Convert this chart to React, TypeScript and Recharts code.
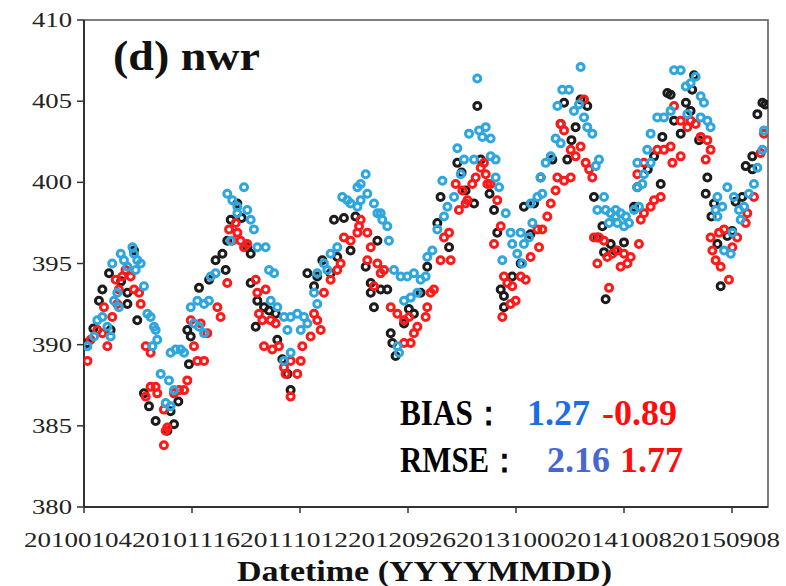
import React from "react";
import { ScatterChart, Scatter, XAxis, YAxis, ReferenceArea } from "recharts";

// x = observation index, y = CO2 (ppm)
const obsPoints: [number, number][] = [
  [1.9, 390.1], [8.3, 392.7], [10.2, 393.4], [13.9, 394.4], [14.8, 390.9], [24.1, 393.2], [24.1, 392.5],
  [27.8, 395.8], [29.6, 391.5], [33.3, 387.0], [39.8, 385.3], [48.1, 385.9], [50, 385.1], [46.3, 384.7],
  [57.4, 390.9], [59.3, 390.5], [58.3, 388.8], [63.9, 393.5], [73.1, 395.2], [78.7, 394.6], [76.9, 395.6],
  [79.6, 396.4], [81.5, 397.7], [85.2, 398.7], [90.7, 396.0], [92.6, 395.6], [92.6, 393.8], [96.3, 392.7],
  [100, 392.3], [102.8, 392.1], [106.5, 391.9], [95.4, 391.1], [107.4, 390.3], [113, 388.2], [114.8, 387.2],
  [124.1, 394.4], [127.8, 393.6], [129.6, 394.2], [137, 394.4], [138.9, 397.7], [144.4, 397.8], [148.1, 395.8],
  [140.7, 395.4], [156.5, 394.8], [159.3, 393.8], [159.3, 393.2], [161.1, 392.3], [164.8, 393.4], [168.5, 393.4],
  [163, 396.4], [170.4, 390.7], [171.3, 390.1], [173.1, 389.3], [177.8, 391.3], [183.3, 391.9], [187, 393.2],
  [190.7, 394.8], [198.1, 399.1], [196.3, 397.5], [202.8, 396.0], [207.4, 401.2], [212, 399.5], [218.5, 404.7],
  [216.7, 398.7], [220.4, 401.4], [227.8, 398.3], [229.6, 396.9], [231.5, 393.4], [233.3, 393.0], [233.3, 392.3],
  [237.9, 394.2], [242.6, 395.0], [244.4, 398.5], [250, 398.7], [253.7, 400.3], [260.2, 401.4], [264.8, 403.6],
  [266.7, 404.9], [268.5, 401.4], [273.1, 403.4], [275.9, 405.1], [279.6, 404.7], [283.3, 399.1], [288, 397.3],
  [285.2, 396.6], [288.9, 395.7], [292.6, 396.2], [300, 396.3], [289.8, 392.8], [305.6, 398.5], [307.4, 399.7],
  [316.7, 401.6], [320.4, 399.9], [321.3, 402.8], [324.1, 405.5], [325.9, 405.4], [327.8, 403.8], [331.5, 403.0],
  [337, 404.4], [338.9, 406.6], [337.9, 405.7], [341.7, 402.6], [346.3, 400.3], [345.4, 399.3], [350, 398.7],
  [351.9, 396.2], [353.7, 393.6], [357.4, 396.7], [362, 398.8], [365.7, 399.1], [367.6, 401.0], [371.3, 401.6],
  [374.1, 404.2], [376.9, 404.9], [371.3, 400.8], [378.5, 404.8],
  [5.2, 391.0], [20.6, 393.9], [36.1, 386.2], [52.4, 386.5], [69.5, 394.0], [87.6, 397.8], [110.2, 389.1],
  [132.4, 395.2], [150.8, 397.9], [180.5, 392.2], [209.8, 400.6], [225.3, 399.3], [248.0, 396.8], [270.8, 402.6],
  [294.9, 395.8], [313.2, 400.8], [334.4, 404.9], [348.6, 397.9], [360.1, 397.0],
];

const modelBluePoints: [number, number][] = [
  [1.9, 389.9], [5.6, 390.5], [7.4, 391.5], [10.2, 391.7], [13, 391.1], [14.8, 390.5], [15.7, 395.0],
  [20.4, 395.6], [22.2, 395.2], [26.9, 396.0], [27.8, 395.6], [29.6, 395.2], [24.1, 394.8], [28.7, 394.6],
  [31.5, 395.0], [18.5, 393.2], [16.7, 392.7], [19.4, 392.3], [33.3, 393.6], [35.2, 391.9], [37, 391.7],
  [38.9, 391.1], [39.8, 390.9], [40.7, 390.3], [38, 389.9], [42.6, 388.2], [48.1, 389.5], [50.9, 389.7],
  [53.7, 389.7], [55.6, 389.5], [47.2, 387.8], [50, 387.2], [45.4, 386.4], [48.1, 386.2], [59.3, 392.3],
  [63, 392.7], [66.7, 392.5], [69.4, 392.7], [70.4, 394.2], [73.1, 394.4], [61.1, 391.3], [63.9, 391.1],
  [66.7, 390.7], [79.6, 399.3], [82.4, 398.9], [88.9, 399.7], [85.2, 398.5], [90.7, 398.3], [92.6, 397.7],
  [94.4, 397.1], [96.3, 396.0], [100.9, 396.0], [85.2, 398.1], [81.5, 396.4], [102.8, 394.6], [105.6, 394.4],
  [103.7, 392.7], [107.4, 392.3], [111.1, 391.7], [114.8, 391.7], [118.5, 391.9], [122.2, 391.7], [124.1, 391.3],
  [113, 390.9], [120.4, 390.9], [114.8, 389.5], [111.1, 389.0], [129.6, 394.4], [133.3, 395.0], [135.2, 394.6],
  [127.8, 393.2], [129.6, 392.5], [137, 395.6], [140.7, 396.0], [143.5, 399.1], [146.3, 398.9], [148.1, 398.7],
  [151.9, 398.5], [153.7, 398.9], [157.4, 399.3], [156.5, 400.5], [151.9, 399.7], [153.7, 399.9], [161.1, 398.7],
  [163, 398.1], [164.8, 398.1], [165.7, 397.7], [168.5, 397.3], [169.4, 396.4], [172.2, 394.6], [175.9, 394.2],
  [179.6, 394.2], [183.3, 394.4], [187, 394.0], [177.8, 392.7], [181.5, 392.9], [185.2, 393.2], [174.1, 389.9],
  [175, 389.5], [190.7, 395.4], [193.5, 395.8], [189.8, 394.2], [196.3, 397.1], [200, 397.9], [199.1, 400.1],
  [201.9, 398.5], [205.6, 399.1], [207.4, 402.1], [209.3, 400.5], [211.1, 401.4], [213.9, 403.0], [216.7, 401.4],
  [218.5, 406.4], [219.5, 403.2], [221.3, 402.8], [223.2, 403.4], [225.9, 402.7], [225.9, 401.6], [228.7, 401.4],
  [228.7, 400.3], [230.6, 399.7], [234.3, 398.1], [237, 396.9], [237.9, 396.2], [232.4, 395.2], [242.6, 396.9],
  [244.4, 396.2], [240.7, 395.6], [243.5, 395.0], [247.2, 396.6], [249.1, 397.5], [251.9, 399.1], [254.6, 399.3],
  [248.1, 398.7], [253.7, 400.3], [256.5, 401.2], [259.3, 401.6], [262, 402.7], [264.8, 402.4], [263, 404.7],
  [265.7, 405.7], [269.4, 405.7], [272.2, 404.4], [275, 404.8], [275.9, 407.1], [277.8, 404.0], [279.6, 403.4],
  [282.4, 403.0], [286.1, 401.4], [284.3, 401.0], [288.9, 399.1], [285.2, 398.3], [289.8, 398.3], [292.6, 398.1],
  [295.4, 397.9], [298.1, 398.1], [301, 397.9], [296.3, 397.5], [300, 397.3], [302.8, 397.5], [305.6, 398.3],
  [308.3, 398.5], [295.4, 398.3], [291.7, 397.5], [307.4, 401.2], [311.1, 400.5], [314.8, 401.2], [312.9, 402.0],
  [307.4, 399.7], [310.2, 399.9], [314.8, 403.0], [318.5, 404.0], [322.2, 404.0], [325.9, 404.4], [327.8, 406.9],
  [331.5, 406.9], [334.3, 405.9], [337, 406.1], [339.8, 406.5], [342.6, 405.3], [344.4, 404.9], [346.3, 403.8],
  [348.1, 403.4], [335.2, 404.2], [342.6, 404.0], [351.9, 399.1], [350.9, 398.3], [351.9, 397.9], [354.6, 398.5],
  [357.4, 399.7], [361.1, 399.1], [363.9, 398.3], [366.7, 398.5], [364.8, 397.7], [369.4, 399.3], [372.2, 399.9],
  [374.1, 400.9], [376.9, 402.0], [377.8, 403.2], [355.6, 395.8], [359.3, 395.6], [360.2, 396.9],
];

const modelRedPoints: [number, number][] = [
  [1.9, 389.0], [3.7, 390.3], [7.4, 390.9], [10.2, 390.7], [13, 389.9], [11.1, 392.3], [15.7, 391.7],
  [18.5, 392.5], [19.4, 393.4], [17.6, 394.0], [21.3, 394.2], [23.1, 394.6], [25.9, 394.2], [27.8, 393.4],
  [30.6, 393.2], [31.5, 392.5], [34.3, 389.9], [37, 389.5], [37, 387.4], [39.8, 387.4], [34.3, 386.8],
  [40.7, 387.0], [44.4, 386.0], [46.3, 384.9], [45.4, 384.7], [44.4, 383.8], [50, 387.0], [52.8, 387.2],
  [55.6, 387.2], [57.4, 387.8], [61.1, 389.9], [63, 389.0], [66.7, 389.0], [59.3, 391.5], [64.8, 391.3],
  [68.5, 390.7], [74.1, 392.3], [75.9, 391.7], [79.6, 393.8], [80.6, 397.1], [82.4, 396.4], [85.2, 396.9],
  [87, 396.4], [88.9, 396.0], [90.7, 396.2], [84.3, 397.5], [95.4, 394.0], [96.3, 393.2], [100.9, 393.4],
  [97.2, 391.9], [99.1, 391.5], [103.7, 391.5], [106.5, 391.3], [100, 389.9], [104.6, 389.7], [108.3, 389.9],
  [111.1, 388.6], [112, 388.2], [114.8, 389.0], [118.5, 388.2], [120.4, 389.0], [121.3, 389.9], [125.9, 390.5],
  [129.6, 391.5], [131.5, 390.9], [127.8, 391.9], [114.8, 386.8], [133.3, 393.2], [137, 394.0], [140.7, 394.6],
  [142.6, 395.0], [144.4, 396.6], [148.1, 396.4], [151.9, 396.9], [153.7, 397.7], [152.8, 397.3], [157.4, 396.9],
  [159.3, 396.0], [157.4, 395.2], [163, 395.0], [164.8, 394.4], [166.7, 394.6], [161.1, 393.6], [170.4, 392.3],
  [174.1, 391.9], [177.8, 391.5], [180.6, 391.7], [183.3, 390.7], [177.8, 390.1], [181.5, 390.1], [185.2, 391.1],
  [190.7, 392.3], [192.6, 393.2], [189.8, 391.7], [194.4, 393.4], [198.1, 395.2], [200, 396.6], [202.8, 396.9],
  [203.7, 395.2], [206.5, 399.9], [208.3, 398.3], [210.2, 399.5], [212, 398.7], [213, 398.9], [215.7, 399.9],
  [217.6, 400.3], [220.4, 400.9], [223.2, 400.5], [224.1, 399.9], [222.2, 401.2], [225.9, 399.9], [229.6, 398.9],
  [227.8, 396.2], [231.5, 397.3], [233.3, 394.2], [235.2, 393.8], [237.9, 393.6], [237, 392.5], [239.8, 392.7],
  [242.6, 394.2], [232.4, 391.7], [245.4, 394.0], [248.1, 395.4], [251.9, 397.1], [254.6, 397.1], [252.8, 396.0],
  [257.4, 397.9], [259.3, 398.7], [262, 399.5], [264.8, 403.6], [266.7, 403.2], [270.4, 402.0], [273.1, 401.6],
  [275.9, 402.2], [277.8, 405.1], [278.7, 401.2], [280.6, 400.8], [282.4, 400.3], [263, 400.3], [266.7, 400.1],
  [270.4, 400.3], [283.3, 396.6], [286.1, 396.6], [288.9, 396.4], [285.2, 395.0], [290.7, 395.4], [293.5, 395.6],
  [296.3, 395.8], [300, 395.6], [301.9, 395.0], [303.7, 395.4], [298.1, 394.8], [308.3, 396.2], [291.7, 393.5],
  [309.3, 397.7], [311.1, 398.1], [314.8, 398.5], [316.7, 398.9], [320.4, 399.1], [307.4, 400.5], [311.1, 401.2],
  [318.5, 402.0], [322.2, 402.0], [325.9, 402.2], [326.9, 401.2], [331.5, 401.6], [327.8, 404.7], [331.5, 403.8],
  [335.2, 403.4], [337, 403.8], [339.8, 403.6], [342.6, 402.8], [346.3, 402.6], [348.1, 402.0], [345.4, 401.4],
  [348.1, 396.6], [349.1, 395.8], [350.9, 395.2], [353.7, 394.8], [358.3, 394.0], [352.8, 396.9], [355.6, 397.1],
  [362.9, 396.6], [367.6, 397.5], [368.5, 398.1], [372.2, 399.1], [360.2, 396.0], [375.9, 401.8], [377.8, 403.0],
];

const xTickValues = [0, 60, 120, 180, 240, 300, 360];
const xTickLabels = ["20100104", "20101116", "20111012", "20120926", "20131000", "20141008", "20150908"];
const yTickValues = [380, 385, 390, 395, 400, 405, 410];

const panelTitle = "(d) nwr";
const xAxisTitle = "Datetime (YYYYMMDD)";
const biasLabel = "BIAS：";
const rmseLabel = "RMSE：";
const biasValues = ["1.27", "-0.89"];
const rmseValues = ["2.16", "1.77"];

const toObjs = (pts: [number, number][]) => pts.map(([x, y]) => ({ x, y }));

const ring = (color: string) => (props: any) => {
  const { cx, cy } = props;
  if (cx == null || cy == null) return <g />;
  return <circle cx={cx} cy={cy} r={3.5} fill="none" stroke={color} strokeWidth={3} />;
};

const serif = "Liberation Serif";

const XTick = (props: any) => {
  const { x, y, payload } = props;
  const i = xTickValues.indexOf(payload.value);
  const label = i >= 0 ? xTickLabels[i] : String(payload.value);
  return (
    <text
      x={x - 6}
      y={y + 32}
      textAnchor="middle"
      fontFamily={serif}
      fontSize={22}
      fill="#222"
      textLength={108}
      lengthAdjust="spacingAndGlyphs"
    >
      {label}
    </text>
  );
};

const YTick = (props: any) => {
  const { x, y, payload } = props;
  return (
    <text
      x={x - 43}
      y={y + 7}
      textAnchor="start"
      fontFamily={serif}
      fontSize={20}
      fill="#222"
      textLength={40}
      lengthAdjust="spacingAndGlyphs"
    >
      {payload.value}
    </text>
  );
};

export default function App() {
  return (
    <div style={{ position: "absolute", left: 0, top: 0, width: 786, height: 586, background: "#fff" }}>
      <ScatterChart width={786} height={586} margin={{ top: 20, right: 18, bottom: 39, left: 0 }}>
        <XAxis
          type="number"
          dataKey="x"
          domain={[0, 380]}
          ticks={xTickValues}
          tick={<XTick />}
          tickSize={6}
          axisLine={{ stroke: "#333", strokeWidth: 2 }}
          tickLine={{ stroke: "#333", strokeWidth: 1.5 }}
          height={40}
          allowDataOverflow
        />
        <YAxis
          type="number"
          dataKey="y"
          domain={[380, 410]}
          ticks={yTickValues}
          tick={<YTick />}
          tickSize={7}
          width={84}
          axisLine={{ stroke: "#333", strokeWidth: 2 }}
          tickLine={{ stroke: "#333", strokeWidth: 1.5 }}
          allowDataOverflow
        />
        <ReferenceArea x1={0} x2={380} y1={380} y2={410} fill="none" stroke="#555" strokeWidth={1.5} ifOverflow="visible" />
        <Scatter data={toObjs(obsPoints)} shape={ring("#1c1c1c")} isAnimationActive={false} />
        <Scatter data={toObjs(modelRedPoints)} shape={ring("#ff1a1a")} isAnimationActive={false} />
        <Scatter data={toObjs(modelBluePoints)} shape={ring("#2ea6df")} isAnimationActive={false} />
      </ScatterChart>
      <svg width={786} height={586} style={{ position: "absolute", left: 0, top: 0, pointerEvents: "none" }}>
        <text x={113} y={70} fontFamily={serif} fontWeight="bold" fontSize={42} fill="#111" textLength={147} lengthAdjust="spacingAndGlyphs">
          {panelTitle}
        </text>
        <text x={237} y={581} fontFamily={serif} fontWeight="bold" fontSize={30} fill="#111" textLength={375} lengthAdjust="spacingAndGlyphs">
          {xAxisTitle}
        </text>
        <text x={400} y={425} fontFamily={serif} fontWeight="bold" fontSize={35} fill="#000" textLength={104} lengthAdjust="spacingAndGlyphs">
          {biasLabel}
        </text>
        <text x={527} y={425} fontFamily={serif} fontWeight="bold" fontSize={35} fill="#1a6fe4" textLength={63} lengthAdjust="spacingAndGlyphs">
          {biasValues[0]}
        </text>
        <text x={602} y={425} fontFamily={serif} fontWeight="bold" fontSize={35} fill="#ff0d0d" textLength={75} lengthAdjust="spacingAndGlyphs">
          {biasValues[1]}
        </text>
        <text x={400} y={472} fontFamily={serif} fontWeight="bold" fontSize={35} fill="#000" textLength={120} lengthAdjust="spacingAndGlyphs">
          {rmseLabel}
        </text>
        <text x={547} y={472} fontFamily={serif} fontWeight="bold" fontSize={35} fill="#4767cf" textLength={63} lengthAdjust="spacingAndGlyphs">
          {rmseValues[0]}
        </text>
        <text x={620} y={472} fontFamily={serif} fontWeight="bold" fontSize={35} fill="#ff0d0d" textLength={63} lengthAdjust="spacingAndGlyphs">
          {rmseValues[1]}
        </text>
      </svg>
    </div>
  );
}
